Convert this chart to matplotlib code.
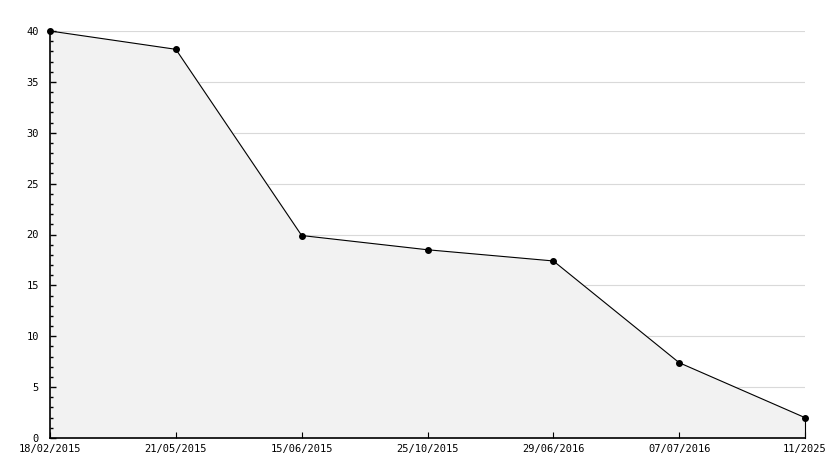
import matplotlib.pyplot as plt
from matplotlib.ticker import MultipleLocator

dates = ["18/02/2015", "21/05/2015", "15/06/2015", "25/10/2015",
         "29/06/2016", "07/07/2016", "11/2025"]
values = [40, 38.2, 19.9, 18.5, 17.4, 7.4, 2.0]

plt.rcParams['font.family'] = ['DejaVu Sans Mono']

fig = plt.figure(figsize=(8.34, 4.68), dpi=100)
W, H = 834, 468
ax = fig.add_axes([50 / W, (H - 438) / H, (805 - 50) / W, (438 - 31) / H])

x = list(range(len(dates)))
# gridlines drawn by hand so the fill covers them but not the ticks
for gy in range(5, 41, 5):
    ax.axhline(gy, color="#d9d9d9", lw=0.8, zorder=0)
ax.fill_between(x, values, 0, color="#f2f2f2", zorder=1)
ax.plot(x, values, color="black", lw=0.8, zorder=3)
ax.plot(x, values, "o", color="black", ms=4, zorder=4, clip_on=False)
# right-hand edge of the filled area
ax.plot([x[-1], x[-1]], [0, values[-1]], color="black", lw=0.8, zorder=3, clip_on=False)

ax.set_xlim(0, len(dates) - 1)
ax.set_ylim(0, 40)
ax.set_xticks(x)
ax.set_xticklabels(dates)
ax.yaxis.set_major_locator(MultipleLocator(5))
ax.yaxis.set_minor_locator(MultipleLocator(1))

for s in ("top", "right"):
    ax.spines[s].set_visible(False)
for s in ("left", "bottom"):
    ax.spines[s].set_linewidth(1.2)

ax.tick_params(axis="y", which="major", direction="in", length=4.5, width=1,
               labelsize=7.5, pad=8)
ax.tick_params(axis="y", which="minor", direction="in", length=2.3, width=1)
ax.tick_params(axis="x", direction="in", length=4.3, width=0.8, labelsize=7.5, pad=4)

fig.savefig("out.png", dpi=100)
